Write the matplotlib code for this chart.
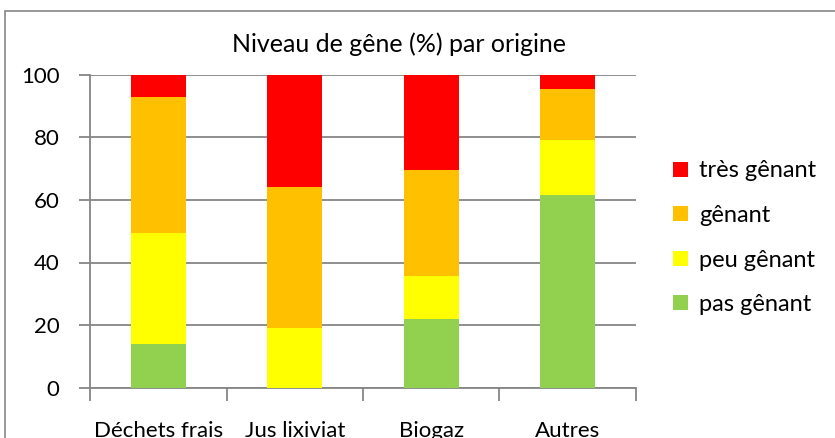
import matplotlib.pyplot as plt
import numpy as np
from matplotlib.patches import Rectangle

plt.rcParams['font.family'] = ['Lato', 'DejaVu Sans']

categories = ['Déchets frais', 'Jus lixiviat', 'Biogaz', 'Autres']
pas_genant = [14.0, 0.0, 21.8, 61.6]
peu_genant = [35.5, 19.0, 14.0, 17.5]
genant = [43.4, 45.0, 33.7, 16.2]
tres_genant = [7.1, 36.0, 30.5, 4.7]

series = [('pas gênant', pas_genant, '#92D050'),
          ('peu gênant', peu_genant, '#FFFF00'),
          ('gênant', genant, '#FFC000'),
          ('très gênant', tres_genant, '#FF0000')]

fig = plt.figure(figsize=(8.35, 4.38), dpi=100)
# outer chart border (cropped at right and bottom)
fig.patches.append(Rectangle((5 / 835, -0.05), 1.0, 0.05 + 427 / 438,
                             transform=fig.transFigure, fill=False,
                             edgecolor='#868686', linewidth=1.2))

ax = fig.add_axes([90 / 835, 50.3 / 438, 546 / 835, 313 / 438])
x = np.arange(len(categories))
bottom = np.zeros(len(categories))
handles = []
for name, vals, col in series:
    b = ax.bar(x, vals, width=0.4, bottom=bottom, color=col, label=name, zorder=3)
    handles.append(b)
    bottom += np.array(vals)

ax.set_xlim(-0.5, 3.5)
ax.set_ylim(0, 100)
ax.set_yticks(range(0, 101, 20))
ax.yaxis.grid(True, color='#868686', linewidth=1.3, zorder=0)
for s in ['top', 'right']:
    ax.spines[s].set_visible(False)
for s in ['left', 'bottom']:
    ax.spines[s].set_color('#868686')
    ax.spines[s].set_linewidth(1.3)

ax.set_xticks(np.arange(-0.5, 4, 1.0))
ax.set_xticklabels([])
ax.set_xticks(x, minor=True)
ax.set_xticklabels(categories, minor=True)
ax.tick_params(axis='x', which='major', length=9, width=1.3, color='#868686')
ax.tick_params(axis='x', which='minor', length=0, pad=24, labelsize=16)
ax.tick_params(axis='y', length=8, width=1.3, color='#868686', labelsize=16, pad=14)

fig.text(399 / 835, 1 - 52 / 438, 'Niveau de gêne (%) par origine',
         ha='center', va='baseline', fontsize=18)

ax.legend(handles[::-1], [s[0] for s in series][::-1],
          loc='upper left', bbox_to_anchor=(664 / 835, 1 - 151 / 438),
          bbox_transform=fig.transFigure, frameon=False, fontsize=17,
          handlelength=0.6, handleheight=0.6, handletextpad=0.5,
          labelspacing=1.0, borderaxespad=0)

fig.savefig('out.png', dpi=100)
